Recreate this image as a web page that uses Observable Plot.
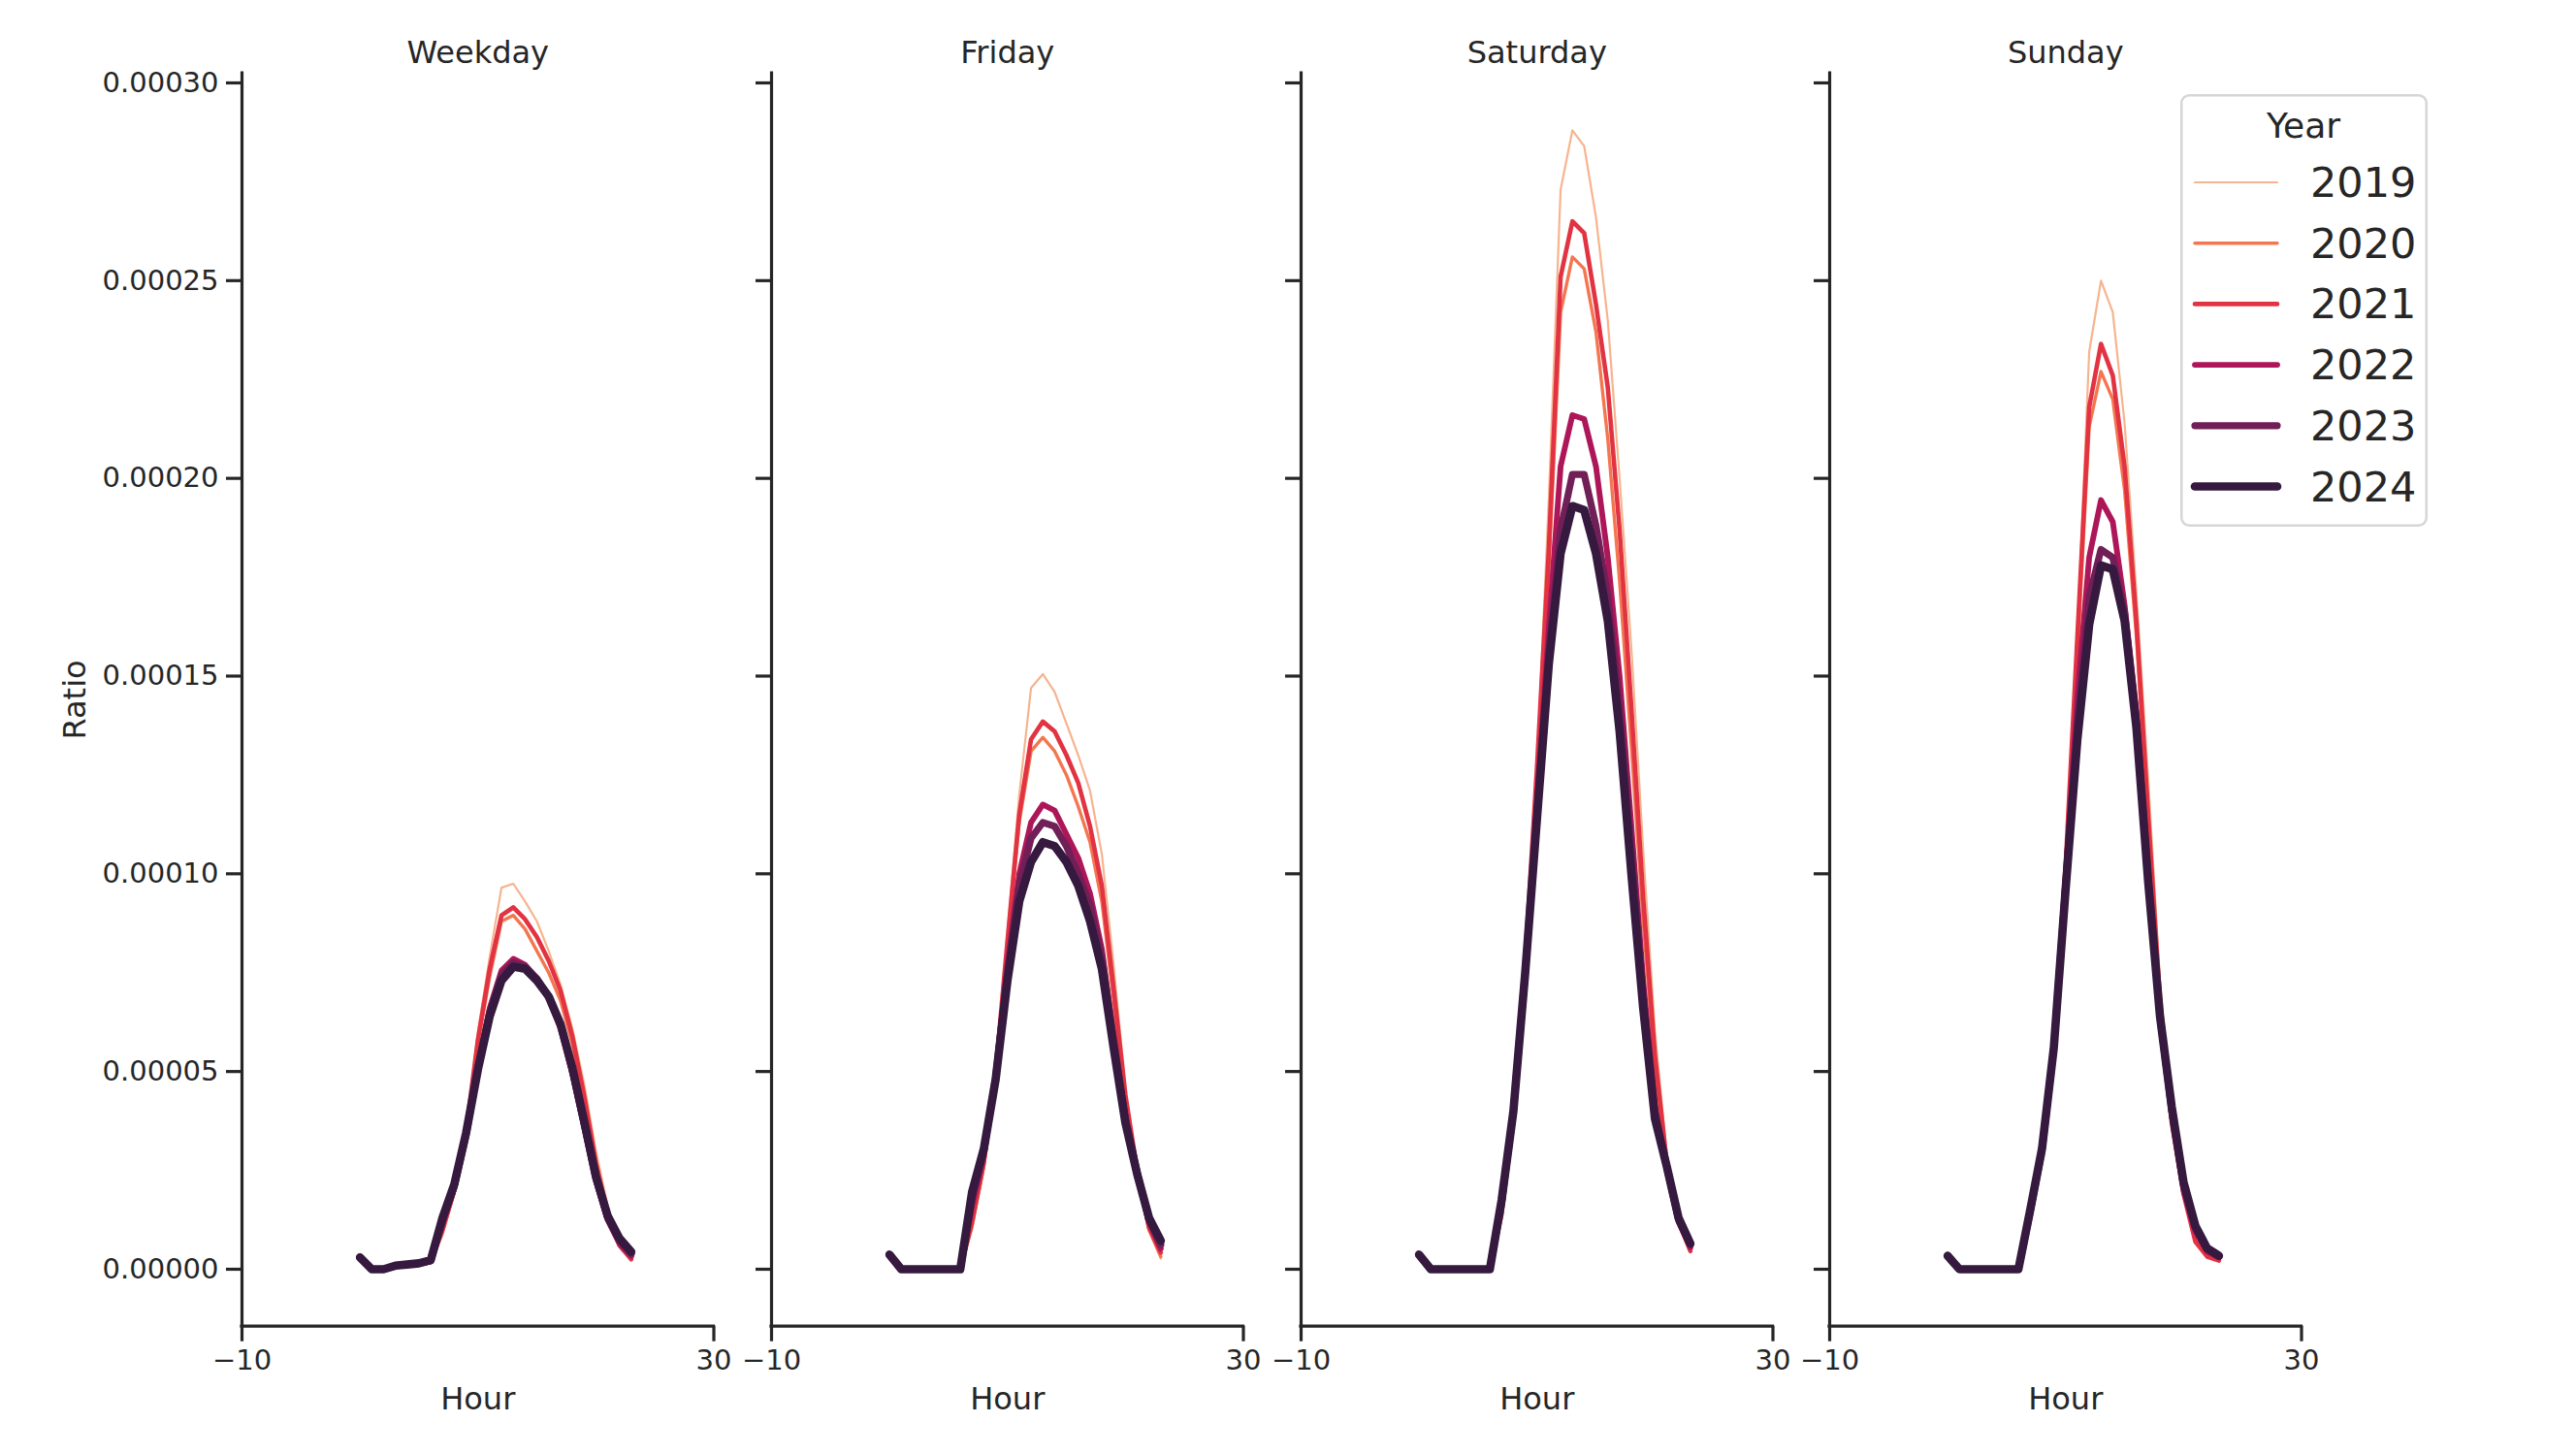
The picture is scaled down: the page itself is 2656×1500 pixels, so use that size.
<!DOCTYPE html>
<html>
<head>
<meta charset="utf-8">
<script src="https://cdn.jsdelivr.net/npm/d3@7"></script>
<script src="https://cdn.jsdelivr.net/npm/@observablehq/plot@0.6"></script>
<style>
  html, body { margin: 0; padding: 0; background: #ffffff; }
  #chart { position: relative; width: 2656px; height: 1500px; font-family: "DejaVu Sans", sans-serif; color: #262626; }
  #chart svg { position: absolute; top: 0; overflow: visible; }
</style>
</head>
<body>
<div id="chart"></div>
<script>
// ---------------- data ----------------
const hours = [0, 1, 2, 3, 4, 5, 6, 7, 8, 9, 10, 11, 12, 13, 14, 15, 16, 17, 18, 19, 20, 21, 22, 23];
const years = [2019, 2020, 2021, 2022, 2023, 2024];
const dayTypes = ["Weekday", "Friday", "Saturday", "Sunday"];

// one row per year (2019 … 2024), 24 hourly values each
const weekdayRatio = [
  [2.5e-6, 0, 0, 0.7e-6, 1.0e-6, 1.3e-6, 1.8e-6, 0.85e-5, 1.9e-5, 3.5e-5, 6.0e-5, 7.9e-5, 9.65e-5, 9.75e-5, 9.3e-5, 8.8e-5, 8.05e-5, 7.2e-5, 6.1e-5, 4.7e-5, 3.0e-5, 1.6e-5, 6.9e-6, 2.8e-6],
  [2.5e-6, 0, 0, 0.7e-6, 1.0e-6, 1.3e-6, 1.8e-6, 0.95e-5, 1.95e-5, 3.45e-5, 5.7e-5, 7.4e-5, 8.8e-5, 8.95e-5, 8.6e-5, 8.05e-5, 7.5e-5, 6.8e-5, 5.7e-5, 4.2e-5, 2.6e-5, 1.4e-5, 6.5e-6, 2.8e-6],
  [2.5e-6, 0, 0, 0.7e-6, 1.0e-6, 1.3e-6, 1.8e-6, 1.0e-5, 2.0e-5, 3.5e-5, 5.8e-5, 7.6e-5, 8.95e-5, 9.15e-5, 8.85e-5, 8.4e-5, 7.8e-5, 7.05e-5, 5.9e-5, 4.4e-5, 2.7e-5, 1.4e-5, 6.0e-6, 2.5e-6],
  [2.8e-6, 0, 0, 0.8e-6, 1.1e-6, 1.4e-6, 2.0e-6, 1.15e-5, 2.05e-5, 3.4e-5, 5.15e-5, 6.6e-5, 7.55e-5, 7.85e-5, 7.7e-5, 7.35e-5, 6.85e-5, 6.1e-5, 4.95e-5, 3.6e-5, 2.25e-5, 1.25e-5, 6.5e-6, 3.3e-6],
  [3.0e-6, 0, 0, 0.9e-6, 1.2e-6, 1.5e-6, 2.2e-6, 1.25e-5, 2.1e-5, 3.4e-5, 5.1e-5, 6.5e-5, 7.45e-5, 7.75e-5, 7.65e-5, 7.35e-5, 6.9e-5, 6.2e-5, 5.05e-5, 3.7e-5, 2.3e-5, 1.3e-5, 7.2e-6, 3.9e-6],
  [3.0e-6, 0, 0, 0.9e-6, 1.2e-6, 1.5e-6, 2.3e-6, 1.3e-5, 2.15e-5, 3.45e-5, 5.05e-5, 6.4e-5, 7.3e-5, 7.65e-5, 7.6e-5, 7.3e-5, 6.9e-5, 6.2e-5, 5.1e-5, 3.75e-5, 2.35e-5, 1.35e-5, 7.8e-6, 4.4e-6]
];
const fridayRatio = [
  [3.0e-6, 0, 0, 0, 0, 0, 0, 1.0e-5, 2.6e-5, 5.0e-5, 8.5e-5, 1.2e-4, 1.47e-4, 1.505e-4, 1.46e-4, 1.38e-4, 1.30e-4, 1.21e-4, 1.05e-4, 7.7e-5, 4.6e-5, 2.5e-5, 1.0e-5, 2.7e-6],
  [3.0e-6, 0, 0, 0, 0, 0, 0, 1.1e-5, 2.6e-5, 4.9e-5, 8.2e-5, 1.13e-4, 1.31e-4, 1.345e-4, 1.31e-4, 1.25e-4, 1.17e-4, 1.08e-4, 9.3e-5, 6.8e-5, 4.3e-5, 2.4e-5, 1.0e-5, 3.2e-6],
  [3.0e-6, 0, 0, 0, 0, 0, 0, 1.2e-5, 2.7e-5, 5.0e-5, 8.3e-5, 1.15e-4, 1.34e-4, 1.385e-4, 1.36e-4, 1.30e-4, 1.23e-4, 1.12e-4, 9.7e-5, 7.1e-5, 4.4e-5, 2.5e-5, 1.05e-5, 4.2e-6],
  [3.3e-6, 0, 0, 0, 0, 0, 0, 1.6e-5, 2.9e-5, 4.9e-5, 7.7e-5, 1.0e-4, 1.13e-4, 1.175e-4, 1.16e-4, 1.10e-4, 1.04e-4, 9.5e-5, 8.1e-5, 5.9e-5, 3.85e-5, 2.45e-5, 1.2e-5, 5.2e-6],
  [3.5e-6, 0, 0, 0, 0, 0, 0, 1.8e-5, 3.0e-5, 4.85e-5, 7.5e-5, 9.7e-5, 1.09e-4, 1.13e-4, 1.12e-4, 1.07e-4, 1.0e-4, 9.2e-5, 7.9e-5, 5.8e-5, 3.8e-5, 2.45e-5, 1.25e-5, 6.2e-6],
  [3.7e-6, 0, 0, 0, 0, 0, 0, 1.95e-5, 3.05e-5, 4.8e-5, 7.3e-5, 9.3e-5, 1.03e-4, 1.08e-4, 1.07e-4, 1.03e-4, 9.7e-5, 8.8e-5, 7.6e-5, 5.6e-5, 3.7e-5, 2.4e-5, 1.3e-5, 7.2e-6]
];
const saturdayRatio = [
  [3.0e-6, 0, 0, 0, 0, 0, 0, 1.3e-5, 3.7e-5, 7.6e-5, 1.27e-4, 1.95e-4, 2.73e-4, 2.88e-4, 2.84e-4, 2.66e-4, 2.4e-4, 2.0e-4, 1.57e-4, 1.06e-4, 6.0e-5, 2.9e-5, 1.3e-5, 4.2e-6],
  [3.0e-6, 0, 0, 0, 0, 0, 0, 1.35e-5, 3.8e-5, 7.7e-5, 1.25e-4, 1.77e-4, 2.42e-4, 2.56e-4, 2.53e-4, 2.37e-4, 2.1e-4, 1.74e-4, 1.32e-4, 8.8e-5, 5.1e-5, 2.6e-5, 1.2e-5, 5.0e-6],
  [3.0e-6, 0, 0, 0, 0, 0, 0, 1.4e-5, 3.9e-5, 7.8e-5, 1.27e-4, 1.82e-4, 2.51e-4, 2.65e-4, 2.62e-4, 2.44e-4, 2.23e-4, 1.87e-4, 1.42e-4, 9.4e-5, 5.4e-5, 2.7e-5, 1.2e-5, 4.6e-6],
  [3.3e-6, 0, 0, 0, 0, 0, 0, 1.6e-5, 3.9e-5, 7.5e-5, 1.18e-4, 1.62e-4, 2.03e-4, 2.16e-4, 2.15e-4, 2.03e-4, 1.80e-4, 1.50e-4, 1.12e-4, 7.3e-5, 4.1e-5, 2.5e-5, 1.2e-5, 5.5e-6],
  [3.5e-6, 0, 0, 0, 0, 0, 0, 1.7e-5, 4.0e-5, 7.5e-5, 1.15e-4, 1.56e-4, 1.87e-4, 2.01e-4, 2.01e-4, 1.88e-4, 1.70e-4, 1.42e-4, 1.06e-4, 6.9e-5, 4.0e-5, 2.6e-5, 1.25e-5, 6.2e-6],
  [3.7e-6, 0, 0, 0, 0, 0, 0, 1.75e-5, 4.0e-5, 7.5e-5, 1.14e-4, 1.53e-4, 1.81e-4, 1.93e-4, 1.92e-4, 1.81e-4, 1.64e-4, 1.36e-4, 1.0e-4, 6.6e-5, 3.8e-5, 2.6e-5, 1.3e-5, 6.5e-6]
];
const sundayRatio = [
  [3.0e-6, 0, 0, 0, 0, 0, 0, 1.4e-5, 3.0e-5, 5.6e-5, 1.02e-4, 1.6e-4, 2.32e-4, 2.50e-4, 2.42e-4, 2.14e-4, 1.71e-4, 1.24e-4, 7.3e-5, 3.9e-5, 1.9e-5, 6.8e-6, 3.4e-6, 2.5e-6],
  [3.0e-6, 0, 0, 0, 0, 0, 0, 1.35e-5, 3.0e-5, 5.6e-5, 1.0e-4, 1.55e-4, 2.13e-4, 2.27e-4, 2.2e-4, 1.97e-4, 1.6e-4, 1.12e-4, 6.7e-5, 3.7e-5, 1.9e-5, 7.0e-6, 3.5e-6, 2.5e-6],
  [3.0e-6, 0, 0, 0, 0, 0, 0, 1.35e-5, 3.0e-5, 5.7e-5, 1.02e-4, 1.6e-4, 2.18e-4, 2.34e-4, 2.26e-4, 2.03e-4, 1.64e-4, 1.15e-4, 6.8e-5, 3.7e-5, 1.9e-5, 7.0e-6, 3.2e-6, 2.2e-6],
  [3.2e-6, 0, 0, 0, 0, 0, 0, 1.4e-5, 3.0e-5, 5.6e-5, 9.8e-5, 1.45e-4, 1.80e-4, 1.945e-4, 1.89e-4, 1.68e-4, 1.41e-4, 1.0e-4, 6.5e-5, 3.9e-5, 2.0e-5, 9.5e-6, 4.5e-6, 3.0e-6],
  [3.3e-6, 0, 0, 0, 0, 0, 0, 1.45e-5, 3.0e-5, 5.6e-5, 9.7e-5, 1.38e-4, 1.70e-4, 1.82e-4, 1.80e-4, 1.66e-4, 1.39e-4, 9.9e-5, 6.4e-5, 4.0e-5, 2.15e-5, 1.05e-5, 5.0e-6, 3.2e-6],
  [3.4e-6, 0, 0, 0, 0, 0, 0, 1.5e-5, 3.05e-5, 5.6e-5, 9.6e-5, 1.34e-4, 1.63e-4, 1.78e-4, 1.77e-4, 1.64e-4, 1.37e-4, 9.8e-5, 6.4e-5, 4.1e-5, 2.2e-5, 1.1e-5, 5.3e-6, 3.4e-6]
];
const yTickValues = [0, 0.00005, 0.0001, 0.00015, 0.0002, 0.00025, 0.0003];
const xTickValues = [-10, 30];
const xDomain = [-10, 30];

// ---------------- style ----------------
const yearColors = ["#f6b48f", "#f37651", "#e13342", "#ad1759", "#701f57", "#35193e"];
const yearWidths = [2.2, 3.4, 4.6, 5.9, 7.2, 8.6];
const INK = "#262626";
const FONT = "DejaVu Sans";
const TICK_FONT = 29, LABEL_FONT = 32;
const PANEL_LEFT0 = 249, PANEL_STEP = 545.8, PANEL_W = 486.5;
const FRAME_TOP = 75.2, FRAME_BOTTOM = 1366.7, H = 1500;

// ---------------- table ----------------
const ratioByDay = {Weekday: weekdayRatio, Friday: fridayRatio, Saturday: saturdayRatio, Sunday: sundayRatio};
const rows = [];
for (const day of dayTypes) {
  years.forEach((year, k) => {
    hours.forEach((hour, h) => rows.push({day, year, hour, ratio: ratioByDay[day][k][h]}));
  });
}
const [yLo, yHi] = d3.extent(rows, d => d.ratio);
const yPad = 0.05 * (yHi - yLo);
const yDomain = [yLo - yPad, yHi + yPad];

const fmtX = d => (d < 0 ? "\u2212" + Math.abs(d) : String(d));
const fmtY = d3.format(".5f");

const chart = document.getElementById("chart");

dayTypes.forEach((day, i) => {
  const first = i === 0;
  const ml = first ? PANEL_LEFT0 : 40;
  const mr = 40;
  const left = PANEL_LEFT0 + i * PANEL_STEP - ml;
  const sub = rows.filter(d => d.day === day);
  const marks = [];
  years.forEach((yr, k) => {
    marks.push(Plot.line(sub.filter(d => d.year === yr), {
      x: "hour", y: "ratio",
      stroke: yearColors[k], strokeWidth: yearWidths[k],
      strokeLinejoin: "round", strokeLinecap: "round"
    }));
  });
  marks.push(
    Plot.ruleX([xDomain[0]], {stroke: INK, strokeWidth: 3.2, strokeLinecap: "square"}),
    Plot.ruleY([yDomain[0]], {stroke: INK, strokeWidth: 3.2, strokeLinecap: "square"}),
    Plot.axisY({
      ticks: yTickValues, tickSize: 16, tickPadding: 8, strokeWidth: 3.2, stroke: INK,
      tickFormat: first ? fmtY : () => "", label: null, fontSize: TICK_FONT, fill: INK
    }),
    Plot.axisX({
      ticks: xTickValues, tickSize: 16, tickPadding: 8, strokeWidth: 3.2, stroke: INK,
      tickFormat: fmtX, label: null, fontSize: TICK_FONT, fill: INK
    }),
    Plot.text([day], {frameAnchor: "top", textAnchor: "middle", lineAnchor: "middle", dy: -21, fontSize: LABEL_FONT, fill: INK}),
    Plot.text(["Hour"], {frameAnchor: "bottom", textAnchor: "middle", lineAnchor: "middle", dy: 76, fontSize: LABEL_FONT, fill: INK})
  );
  if (first) {
    marks.push(Plot.text(["Ratio"], {frameAnchor: "left", textAnchor: "middle", lineAnchor: "middle", rotate: -90, dx: -172, fontSize: LABEL_FONT, fill: INK}));
  }
  const svg = Plot.plot({
    width: ml + PANEL_W + mr,
    height: H,
    marginLeft: ml, marginRight: mr,
    marginTop: FRAME_TOP, marginBottom: H - FRAME_BOTTOM,
    x: {domain: xDomain},
    y: {domain: yDomain},
    style: {fontFamily: FONT, fontSize: TICK_FONT + "px", color: INK, background: "transparent", overflow: "visible"},
    marks
  });
  svg.style.left = left + "px";
  chart.appendChild(svg);
});

// ---------------- legend ----------------
const LEG = {x: 2248, y: 97, w: 255, h: 446};
const legend = d3.select(chart).append("svg")
  .attr("width", LEG.w).attr("height", LEG.h)
  .style("left", LEG.x + "px").style("top", LEG.y + "px");
legend.append("rect")
  .attr("x", 1.25).attr("y", 1.25).attr("width", LEG.w - 2.5).attr("height", LEG.h - 2.5)
  .attr("rx", 8).attr("fill", "#ffffff").attr("fill-opacity", 0.8)
  .attr("stroke", "#d6d6d6").attr("stroke-width", 2.5);
legend.append("text")
  .attr("x", 127).attr("y", 32).attr("text-anchor", "middle").attr("dominant-baseline", "central")
  .attr("font-family", FONT).attr("font-size", 36).attr("fill", INK).text("Year");
years.forEach((yr, k) => {
  const cy = 91 + k * 62.7;
  legend.append("line")
    .attr("x1", 15).attr("x2", 100).attr("y1", cy).attr("y2", cy)
    .attr("stroke", yearColors[k]).attr("stroke-width", yearWidths[k]).attr("stroke-linecap", "round");
  legend.append("text")
    .attr("x", 134).attr("y", cy).attr("dominant-baseline", "central")
    .attr("font-family", FONT).attr("font-size", 43).attr("fill", INK).text(String(yr));
});
</script>
</body>
</html>
